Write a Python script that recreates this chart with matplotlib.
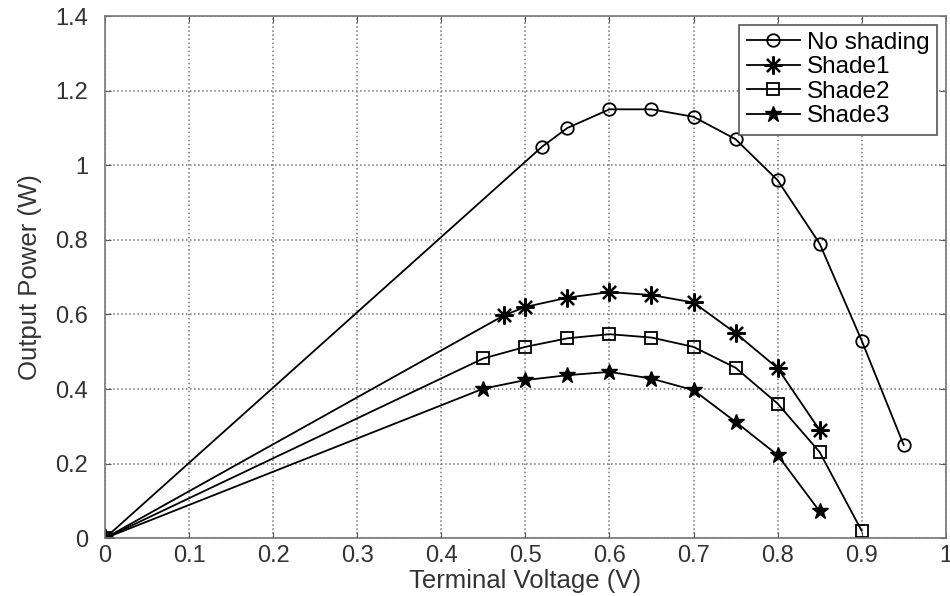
import matplotlib
matplotlib.use("Agg")
import matplotlib.pyplot as plt
from matplotlib.ticker import FuncFormatter

plt.rcParams['font.family'] = ['Liberation Sans', 'DejaVu Sans']

# data
v_none = [0, 0.52, 0.55, 0.60, 0.65, 0.70, 0.75, 0.80, 0.85, 0.90, 0.95]
p_none = [0, 1.05, 1.10, 1.15, 1.15, 1.13, 1.07, 0.96, 0.79, 0.53, 0.25]

v_s1 = [0, 0.475, 0.50, 0.55, 0.60, 0.65, 0.70, 0.75, 0.80, 0.85]
p_s1 = [0, 0.598, 0.620, 0.645, 0.660, 0.652, 0.632, 0.550, 0.456, 0.290]

v_s2 = [0, 0.45, 0.50, 0.55, 0.60, 0.65, 0.70, 0.75, 0.80, 0.85, 0.90]
p_s2 = [0, 0.482, 0.513, 0.536, 0.547, 0.538, 0.513, 0.457, 0.361, 0.231, 0.020]

v_s3 = [0, 0.45, 0.50, 0.55, 0.60, 0.65, 0.70, 0.75, 0.80, 0.85]
p_s3 = [0, 0.401, 0.424, 0.437, 0.446, 0.428, 0.397, 0.312, 0.223, 0.072]

labels = ['No shading', 'Shade1', 'Shade2', 'Shade3']

fig = plt.figure(figsize=(9.5, 5.96), dpi=100)
ax = fig.add_axes([0.1105, 0.097, 0.885, 0.876])

lw = 1.3
ax.plot(v_none, p_none, color='black', lw=lw, marker='o', markersize=9,
        markerfacecolor='none', markeredgewidth=1.3, label=labels[0])
ax.plot(v_s1, p_s1, color='black', lw=lw, marker=(8, 2, 0), markersize=13,
        markeredgewidth=1.6, label=labels[1])
ax.plot(v_s2, p_s2, color='black', lw=lw, marker='s', markersize=8,
        markerfacecolor='none', markeredgewidth=1.3, label=labels[2])
ax.plot(v_s3, p_s3, color='black', lw=lw, marker='*', markersize=12,
        label=labels[3])

ax.set_xlim(0, 1)
ax.set_ylim(0, 1.4)
ax.set_xticks([i / 10 for i in range(11)])
ax.set_yticks([i / 5 for i in range(8)])
fmt = FuncFormatter(lambda v, pos: '%g' % round(v, 2))
ax.xaxis.set_major_formatter(fmt)
ax.yaxis.set_major_formatter(fmt)
ax.tick_params(labelsize=17, direction='in', length=4, color='#555555',
               labelcolor='#333333', top=True, right=True)
ax.tick_params(axis='y', pad=12)
ax.tick_params(axis='x', pad=5)
ax.grid(True, linestyle=':', color='#777777', linewidth=1.1)
for s in ax.spines.values():
    s.set_color('#777777')
    s.set_linewidth(1.2)

ax.set_xlabel('Terminal Voltage (V)', fontsize=18.5, color='#333333', labelpad=1)
ax.set_ylabel('Output Power (W)', fontsize=18.5, color='#333333', labelpad=10)

leg = ax.legend(loc='upper right', fontsize=17.5, fancybox=False, framealpha=1,
                edgecolor='#555555', handlelength=2.2, handletextpad=0.3,
                borderpad=0.3, labelspacing=0.1, borderaxespad=0.35)
leg.get_frame().set_linewidth(1.2)

plt.savefig('out.png', dpi=100)
